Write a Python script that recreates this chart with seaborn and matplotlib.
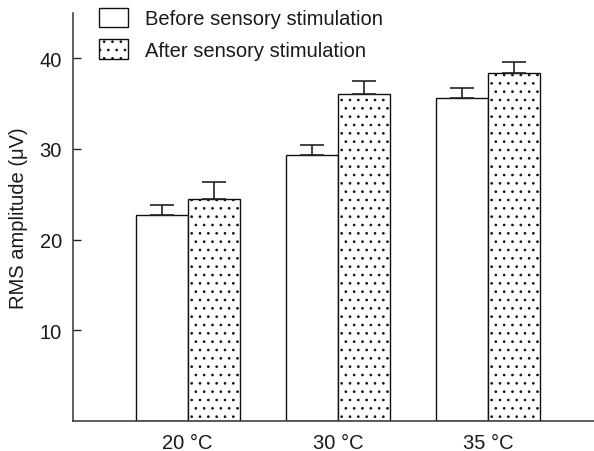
import matplotlib
matplotlib.use("Agg")
import matplotlib.pyplot as plt
import seaborn as sns
import pandas as pd

categories = ["20 °C", "30 °C", "35 °C"]
before_values = [22.7, 29.3, 35.6]
before_errors = [1.1, 1.1, 1.1]
after_values = [24.5, 36.1, 38.35]
after_errors = [1.9, 1.4, 1.25]
series_names = ["Before sensory stimulation", "After sensory stimulation"]
y_ticks = [10, 20, 30, 40]
y_label = "RMS amplitude (μV)"

sns.set_theme(style="ticks")
plt.rcParams["font.family"] = ["Liberation Sans", "DejaVu Sans"]
plt.rcParams["hatch.linewidth"] = 0.7

df = pd.DataFrame({
    "cat": categories * 2,
    "val": before_values + after_values,
    "err": before_errors + after_errors,
    "series": [series_names[0]] * 3 + [series_names[1]] * 3,
})

fig = plt.figure(figsize=(5.94, 4.52), dpi=100)
ax = fig.add_axes([73 / 594, 30 / 452, 521 / 594, 408 / 452])

sns.barplot(data=df, x="cat", y="val", hue="series", order=categories,
            hue_order=series_names, palette=["white", "white"],
            edgecolor="#111111", linewidth=1.0, width=0.692, gap=0,
            errorbar=None, legend=False, ax=ax, saturation=1)

errs = [before_errors, after_errors]
for cont, elist in zip(ax.containers, errs):
    for patch, e in zip(cont.patches, elist):
        xc = patch.get_x() + patch.get_width() / 2
        h = patch.get_height()
        ax.errorbar(xc, h, yerr=[[0], [e]], fmt="none", ecolor="#222222",
                    elinewidth=1.2, capsize=8.3, capthick=1.2, zorder=1)

for patch in ax.containers[1].patches:
    patch.set_hatch("..")

ax.set_ylim(0, 45)
ax.set_xlim(-0.763, 2.703)
ax.set_yticks(y_ticks)
ax.set_xlabel("")
ax.set_ylabel(y_label, fontsize=14.5, labelpad=8, color="#1a1a1a")
ax.tick_params(axis="y", direction="in", length=6, width=1, pad=8,
               labelsize=14.5, labelcolor="#1a1a1a", color="#222222")
ax.tick_params(axis="x", length=0, pad=9, labelsize=14.5, labelcolor="#1a1a1a")
sns.despine(ax=ax)
for s in ["left", "bottom"]:
    ax.spines[s].set_color("#333333")
    ax.spines[s].set_linewidth(1.1)

handles = [ax.containers[0].patches[0], ax.containers[1].patches[0]]
fig.legend(handles=handles, labels=series_names, loc="upper left",
           bbox_to_anchor=(99 / 594, 1 - 9 / 452), frameon=False,
           fontsize=14.5, handlelength=1.44, handleheight=1.08,
           handletextpad=0.85, labelspacing=0.55, borderpad=0,
           borderaxespad=0, labelcolor="#1a1a1a")

fig.savefig("out.png", dpi=100)
